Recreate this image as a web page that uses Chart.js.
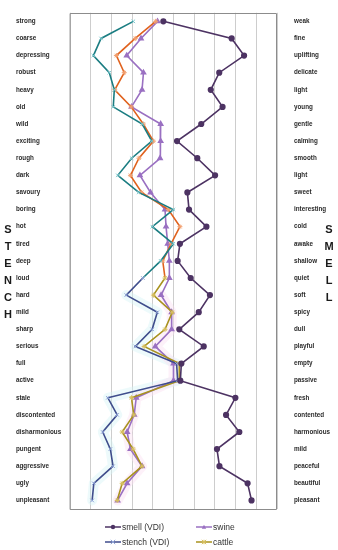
<!DOCTYPE html>
<html><head><meta charset="utf-8">
<script src="https://cdn.jsdelivr.net/npm/chart.js@4/dist/chart.umd.min.js"></script>
<style>html,body{margin:0;padding:0;background:#fff;}#wrap{width:338px;height:550px;position:relative;}</style>
</head><body><div id="wrap"><canvas id="c"></canvas></div>
<script>
const leftLabels = ['strong','coarse','depressing','robust','heavy','old','wild','exciting','rough','dark','savoury','boring','hot','tired','deep','loud','hard','mild','sharp','serious','full','active','stale','discontented','disharmonious','pungent','aggressive','ugly','unpleasant'];
const rightLabels = ['weak','fine','uplifting','delicate','light','young','gentle','calming','smooth','light','sweet','interesting','cold','awake','shallow','quiet','soft','spicy','dull','playful','empty','passive','fresh','contented','harmonious','mild','peaceful','beautiful','pleasant'];
const seriesNames = ['smell (VDI)','stench (VDI)','swine','cattle'];
const smell  = [-0.49, 2.81, 3.41, 2.21, 1.80, 2.37, 1.34, 0.17, 1.15, 2.01, 0.67, 0.75, 1.59, 0.31, 0.20, 0.83, 1.76, 1.22, 0.28, 1.46, 0.38, 0.33, 2.99, 2.54, 3.18, 2.10, 2.22, 3.58, 3.77];
const stench = [-1.94, -3.50, -3.87, -3.10, -2.86, -2.91, -1.51, -1.05, -2.02, -2.69, -1.68, -0.01, -1.02, -0.01, -0.62, -1.48, -2.28, -0.78, -1.03, -1.84, 0.15, 0.20, -3.17, -2.72, -3.42, -3.05, -2.92, -3.85, -3.93];
const swine  = [-0.77, -1.57, -2.26, -1.45, -1.52, -2.03, -0.62, -0.62, -0.65, -1.62, -1.11, -0.41, -0.36, -0.28, -0.20, -0.20, -0.60, -0.09, -0.09, -0.88, 0.00, 0.00, -1.80, -1.90, -2.24, -2.08, -1.52, -2.24, -2.70];
const cattle = [-0.86, -1.85, -2.76, -2.38, -2.84, -2.04, -1.46, -0.97, -1.67, -2.08, -1.54, -0.25, 0.31, -0.12, -0.52, -0.41, -0.97, -0.06, -0.41, -1.42, 0.28, 0.28, -2.03, -1.92, -2.48, -1.95, -1.52, -2.48, -2.72];
const leftLetters = ['S','T','E','N','C','H'];
const rightLetters = ['S','M','E','L','L'];
const letterStart = 12;
const splitIndex = 15;

const C = {
  smell: '#4d3363', smellPt: '#4d3363',
  stenchTop: '#1b7d82', stenchTopPt: '#7fc9cf',
  stenchBot: '#3f4d8c', stenchBotPt: '#8fa4d8',
  swine: '#9a70c2', swinePt: '#9a70c2',
  cattleTop: '#e0621e', cattleTopPt: '#f2a070',
  cattleBot: '#a8921e', cattleBotPt: '#d8c060'
};
const byIdx = (n, a, b) => Array.from({length: n}, (_, i) => i >= splitIndex ? b : a);
const N = leftLabels.length;

function drawMarker(ctx, style, x, y, r, color) {
  ctx.save();
  ctx.strokeStyle = color; ctx.fillStyle = color; ctx.lineWidth = 1;
  ctx.beginPath();
  if (style === 'circle') { ctx.arc(x, y, r, 0, Math.PI * 2); ctx.fill(); }
  else if (style === 'crossRot') { ctx.moveTo(x - r, y - r); ctx.lineTo(x + r, y + r); ctx.moveTo(x + r, y - r); ctx.lineTo(x - r, y + r); ctx.stroke(); }
  else if (style === 'triangle') { ctx.moveTo(x, y - r); ctx.lineTo(x + r, y + r * 0.8); ctx.lineTo(x - r, y + r * 0.8); ctx.closePath(); ctx.fill(); }
  else if (style === 'star') { ctx.moveTo(x - r, y - r); ctx.lineTo(x + r, y + r); ctx.moveTo(x + r, y - r); ctx.lineTo(x - r, y + r); ctx.moveTo(x, y - r); ctx.lineTo(x, y + r); ctx.moveTo(x - r, y); ctx.lineTo(x + r, y); ctx.stroke(); }
  ctx.restore();
}

const framePlugin = {
  id: 'frame',
  beforeDatasetsDraw(chart) {
    const {ctx, chartArea: a} = chart;
    ctx.save();
    // faint glow behind lower part of stench and swine lines
    [[1, 'rgba(215,243,247,0.45)'], [2, 'rgba(250,225,242,0.45)']].forEach(([di, col]) => {
      const pts = chart.getDatasetMeta(di).data;
      ctx.strokeStyle = col; ctx.lineWidth = 10; ctx.lineJoin = 'round'; ctx.lineCap = 'round';
      ctx.beginPath();
      for (let i = splitIndex + 1; i < pts.length; i++) {
        if (i === splitIndex + 1) ctx.moveTo(pts[i].x, pts[i].y); else ctx.lineTo(pts[i].x, pts[i].y);
      }
      ctx.stroke();
    });
    ctx.strokeStyle = '#8c8c8c'; ctx.lineWidth = 1;
    ctx.strokeRect(Math.round(a.left) + 0.5, Math.round(a.top) + 0.5, Math.round(a.right - a.left) - 1, Math.round(a.bottom - a.top));
    ctx.restore();
  },
  afterDraw(chart) {
    const {ctx} = chart;
    const ys = chart.scales.y;
    ctx.save();
    ctx.fillStyle = '#1a1a1a';
    ctx.font = 'bold 11px "Liberation Sans", Arial, sans-serif';
    ctx.textAlign = 'center'; ctx.textBaseline = 'middle';
    leftLetters.forEach((l, i) => ctx.fillText(l, 8, ys.getPixelForValue(letterStart + i) + 3));
    rightLetters.forEach((l, i) => ctx.fillText(l, 329, ys.getPixelForValue(letterStart + i) + 3));
    // legend
    const items = [
      {t: seriesNames[0], c: C.smell, pc: C.smell, m: 'circle', x: 105, y: 527},
      {t: seriesNames[1], c: C.stenchBot, pc: C.stenchBotPt, m: 'crossRot', x: 105, y: 542},
      {t: seriesNames[2], c: C.swine, pc: C.swine, m: 'triangle', x: 196, y: 527},
      {t: seriesNames[3], c: C.cattleBot, pc: C.cattleBotPt, m: 'star', x: 196, y: 542}
    ];
    ctx.font = '8.5px "Liberation Sans", Arial, sans-serif';
    ctx.textAlign = 'left';
    items.forEach(it => {
      ctx.strokeStyle = it.c; ctx.lineWidth = 1.5;
      ctx.beginPath(); ctx.moveTo(it.x, it.y); ctx.lineTo(it.x + 16, it.y); ctx.stroke();
      drawMarker(ctx, it.m, it.x + 8, it.y, 2.2, it.pc);
      ctx.fillStyle = '#333';
      ctx.fillText(it.t, it.x + 17, it.y + 0.5);
    });
    ctx.restore();
  }
};

const tickFont = {family: '"Liberation Sans", Arial, sans-serif', size: 6.3, weight: 'bold'};

new Chart(document.getElementById('c'), {
  type: 'line',
  data: {
    labels: leftLabels,
    datasets: [
      {label: seriesNames[0], data: smell, borderColor: C.smell, backgroundColor: C.smellPt, pointBackgroundColor: C.smellPt, pointBorderColor: C.smellPt, pointStyle: 'circle', pointRadius: 2.3, borderWidth: 1.6, order: 1},
      {label: seriesNames[1], data: stench, borderColor: C.stenchTop, segment: {borderColor: c => c.p0DataIndex >= splitIndex ? C.stenchBot : C.stenchTop}, pointStyle: 'crossRot', pointRadius: 2.5, pointBorderWidth: 1, pointBorderColor: byIdx(N, C.stenchTopPt, C.stenchBotPt), pointBackgroundColor: byIdx(N, C.stenchTopPt, C.stenchBotPt), borderWidth: 1.6, order: 2},
      {label: seriesNames[2], data: swine, borderColor: C.swine, pointStyle: 'triangle', pointRadius: 2.3, pointBackgroundColor: C.swinePt, pointBorderColor: C.swinePt, borderWidth: 1.6, order: 4},
      {label: seriesNames[3], data: cattle, borderColor: C.cattleTop, segment: {borderColor: c => c.p0DataIndex >= splitIndex ? C.cattleBot : C.cattleTop}, pointStyle: 'star', pointRadius: 2.5, pointBorderWidth: 1, pointBorderColor: byIdx(N, C.cattleTopPt, C.cattleBotPt), pointBackgroundColor: byIdx(N, C.cattleTopPt, C.cattleBotPt), borderWidth: 1.6, order: 3}
    ]
  },
  options: {
    indexAxis: 'y',
    responsive: true, maintainAspectRatio: false, animation: false, devicePixelRatio: 1,
    layout: {padding: {top: 4, bottom: 41, left: 16, right: 0}},
    elements: {line: {tension: 0, fill: false}},
    plugins: {legend: {display: false}, tooltip: {enabled: false}},
    scales: {
      x: {type: 'linear', min: -5, max: 5, ticks: {display: false, stepSize: 1}, grid: {color: '#cdcdcd', lineWidth: 1, drawTicks: false}, border: {display: false}},
      y: {type: 'category', position: 'left', offset: true, grid: {display: false}, border: {display: false},
          ticks: {autoSkip: false, crossAlign: 'far', padding: 0, color: '#2a2a2a', font: tickFont},
          afterFit: s => { s.width = 54; }},
      y2: {type: 'category', position: 'right', labels: rightLabels, offset: true, grid: {display: false}, border: {display: false},
          ticks: {autoSkip: false, padding: 9, color: '#2a2a2a', font: tickFont},
          afterFit: s => { s.width = 61; }}
    }
  },
  plugins: [framePlugin]
});
</script></body></html>
